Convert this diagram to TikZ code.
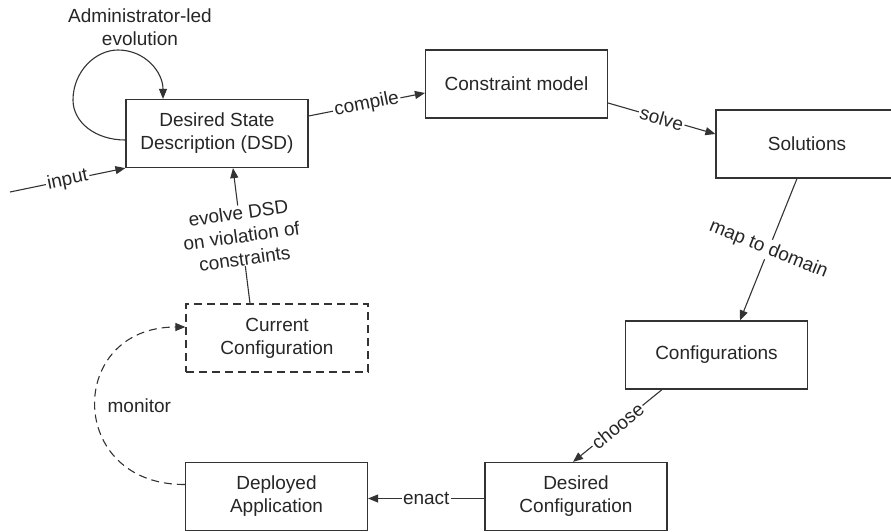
\documentclass[tikz,border=0pt]{standalone}
\usepackage{fontspec}
\setmainfont{Liberation Sans}
\usetikzlibrary{arrows.meta,calc}
\begin{document}
\begin{tikzpicture}[x=1pt,y=-1pt,
  every node/.style={font=\fontsize{19}{23}\selectfont, text=black!85},
  box/.style={draw=black!80, line width=1.2pt, rectangle, minimum width=182pt, minimum height=68pt, align=center, inner sep=0pt},
  dbox/.style={box, dash pattern=on 8pt off 5pt},
  conn/.style={draw=black!80, line width=1.1pt, -{Triangle[length=10pt,width=8pt]}},
  lbl/.style={fill=white, inner sep=1.5pt, sloped},
  freelbl/.style={fill=white, inner sep=1.5pt, align=center}
]
\useasboundingbox (0,0) rectangle (891,531);
\node[box] (dsd) at (217,133.5) {Desired State\\Description (DSD)};
\node[box] (cm) at (516.5,84) {Constraint model};
\node[box] (sol) at (807,144) {Solutions};
\node[box] (conf) at (716.5,355) {Configurations};
\node[box] (dc) at (576,496.5) {Desired\\Configuration};
\node[box] (da) at (276.5,496.5) {Deployed\\Application};
\node[dbox] (cc) at (277,338) {Current\\Configuration};
\coordinate (in) at (10,192);

\node[freelbl] (adm) at (140,27) {Administrator-led\\evolution};

% input
\draw[conn] (in) -- node[lbl] {input} (dsd.south west);
% compile
\draw[conn] ($(dsd.east)+(0,-17.5)$) -- node[lbl] {compile} ($(cm.west)+(0,9)$);
% solve
\draw[conn] ($(cm.east)+(0,19)$) -- node[lbl] {solve} ($(sol.west)+(0,-10)$);
% map to domain
\draw[conn] ($(sol.south)+(-10,0)$) -- node[fill=white, inner sep=1.5pt, rotate=-22] {map to domain} ($(conf.north)+(23.5,0)$);
% choose
\draw[conn] ($(conf.south)+(-54.5,0)$) -- node[lbl] {choose} ($(dc.north)+(-3,0)$);
% enact
\draw[conn] ($(dc.west)+(0,2)$) -- node[lbl] {enact} ($(da.east)+(0,2)$);
% evolve
\draw[conn] ($(cc.north)+(-27,0)$) -- node[freelbl, rotate=8, inner sep=0.5pt] {evolve DSD\\on violation of\\constraints} ($(dsd.south)+(16,0)$);
% monitor
\draw[conn, dash pattern=on 8pt off 5pt] ($(da.west)+(0,-12)$) .. controls (66,485) and (66,327) .. node[pos=0.5, right=8pt] {monitor} ($(cc.west)+(0,-11)$);
% self loop
\draw[conn] ($(dsd.west)+(0,6.5)$) .. controls (95,140) and (73,122) .. (73,100) .. controls (73,72) and (95,50) .. (118,50) .. controls (145,50) and (163,72) .. ($(dsd.north)+(-54,0)$);
\end{tikzpicture}
\end{document}
